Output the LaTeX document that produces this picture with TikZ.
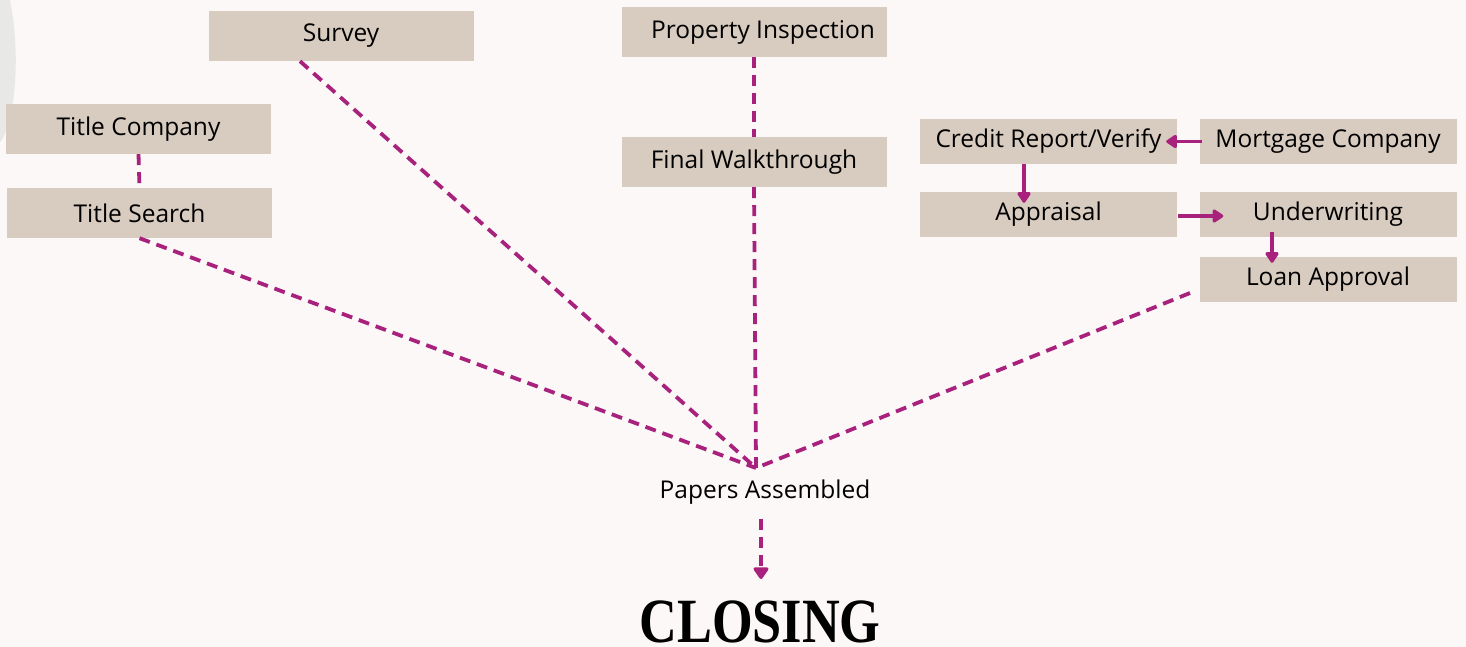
\documentclass[tikz,border=0pt]{standalone}
\usepackage{fontspec}
\setmainfont{Open Sans}
\newfontfamily\closefont{Liberation Serif}
\usetikzlibrary{arrows.meta,calc}
\definecolor{bg}{HTML}{FCF8F7}
\definecolor{boxc}{HTML}{D8CBC0}
\definecolor{mag}{HTML}{A8217D}
\definecolor{blob}{HTML}{E4E4E2}
\begin{document}
\begin{tikzpicture}[x=1pt,y=-1pt,
  box/.style={fill=boxc, inner sep=0pt, minimum width=265pt, minimum height=50pt, font=\fontsize{24.5}{28}\selectfont},
  sbox/.style={box, minimum width=257pt, minimum height=45pt},
  dline/.style={draw=mag, line width=3.8pt, dash pattern=on 11pt off 7pt},
  sarrow/.style={draw=mag, line width=3.8pt, -{Triangle[length=12pt,width=15pt,round]}}]
\useasboundingbox (0,0) rectangle (1466,647);
\fill[bg] (0,0) rectangle (1466,647);
% faint background photo remnant
\fill[blob, opacity=0.8] (0,0) -- (10,0) .. controls (18,40) and (18,90) .. (8,125) .. controls (5,135) and (2,140) .. (0,142) -- cycle;

\node[box] (survey) at (341,36) {Survey\hspace{18pt}};
\node[box] (prop) at (754,32) {\hspace{18pt}Property Inspection};
\node[box] (tco) at (138.5,129) {Title Company};
\node[box] (tsearch) at (139.5,213) {Title Search};
\node[box] (final) at (754,162) {Final Walkthrough};
\node[sbox] (credit) at (1048.5,141.5) {Credit Report/Verify};
\node[sbox] (mort) at (1328,141.5) {Mortgage Company};
\node[sbox] (appr) at (1048.5,214.5) {Appraisal};
\node[sbox] (under) at (1328,214.5) {Underwriting};
\node[sbox] (loan) at (1328,279.5) {Loan Approval};
\node[font=\fontsize{24.5}{28}\selectfont, inner sep=0pt] (papers) at (765,492) {Papers Assembled};
\node[inner sep=0pt, anchor=base] (closing) at (760,642) {\scalebox{0.83}[1]{\closefont\bfseries\fontsize{63}{66}\selectfont CLOSING}};

\coordinate (hub) at (756,468);
\coordinate (lend) at (1190,293);
\coordinate (p1) at (761,519);
\coordinate (p2) at (761,579);

\draw[dline] (tco.south) -- (tsearch.north);
\draw[dline] (prop.south) -- (final.north);
\draw[dline] (final.south) -- (hub);
\draw[dline] ($(survey.south)+(-41,0)$) -- (hub);
\draw[dline] (tsearch.south) -- (hub);
\draw[dline] (lend) -- (hub);
\draw[dline, -{Triangle[length=13pt,width=17pt,round]}] (p1) -- (p2);

\draw[sarrow] ($(mort.west)+(3,0)$) -- ($(credit.east)+(-11,0)$);
\draw[sarrow] ($(credit.south)+(-24.5,0)$) -- ($(appr.north)+(-24.5,11)$);
\draw[sarrow] ($(appr.east)+(1,1.5)$) -- ($(under.west)+(24,1.5)$);
\draw[sarrow] ($(under.south)+(-56,-5)$) -- ($(loan.north)+(-56,6)$);
\end{tikzpicture}
\end{document}
